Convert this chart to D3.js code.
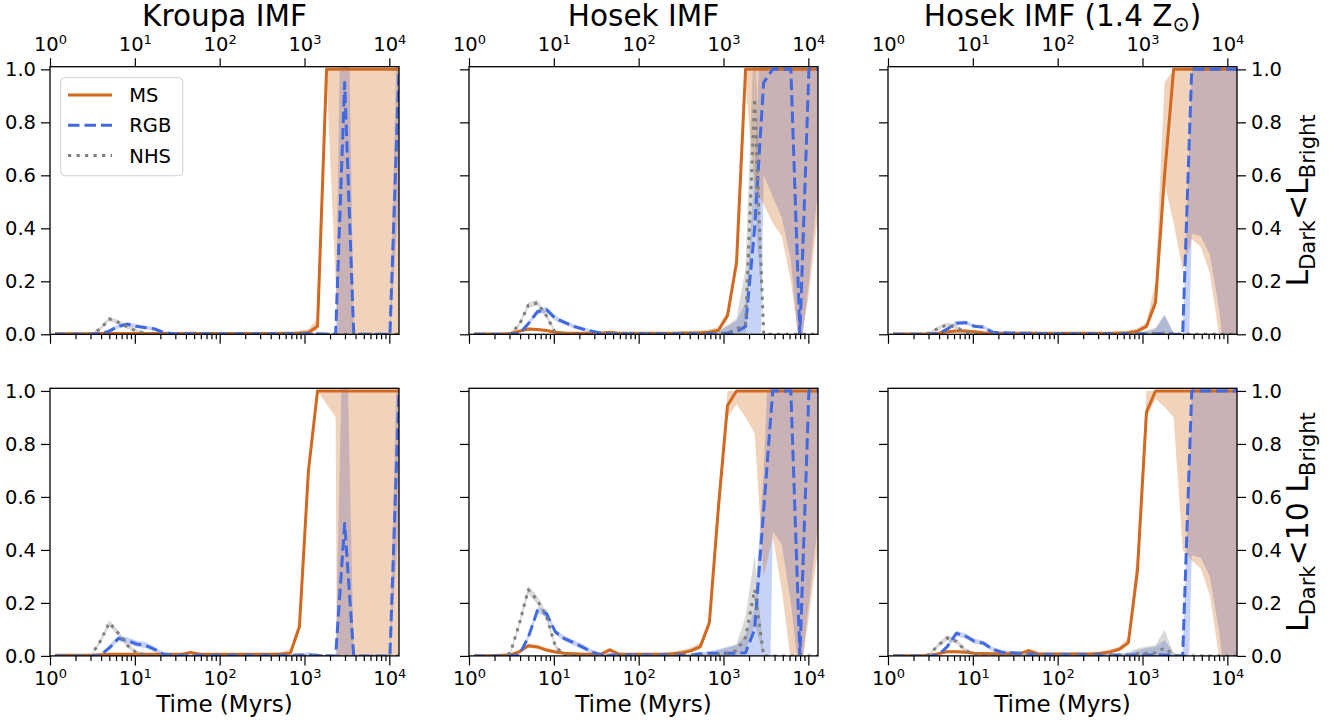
<!DOCTYPE html>
<html>
<head>
  <title>Dark fraction vs time</title>
  <meta charset="utf-8">
  <script type="text/javascript" src="https://d3js.org/d3.v7.min.js"></script>
  <style>
    body { margin: 0; background: #fff; }
    text { font-family: "DejaVu Sans", sans-serif; fill: #000; }
  </style>
</head>
<body>
  <svg width="1336" height="722"></svg>

  <script type="text/javascript">
    "use strict";

    // time grid (Myr)
    var times = [1.145, 1.464, 1.872, 2.393, 3.059, 3.911, 5.0, 6.393, 8.174, 10.45,
      13.36, 17.08, 21.84, 27.92, 35.70, 45.64, 58.36, 74.62, 95.41, 122.0,
      156.0, 199.4, 254.9, 326.0, 416.8, 532.9, 681.3, 871.0, 1114, 1424,
      1820, 2328, 2976, 3805, 4864, 6219, 7951, 10165, 13000];

    var titles = ["Kroupa IMF", "Hosek IMF", "Hosek IMF (1.4 Z"];
    var seriesNames = ["MS", "RGB", "NHS"];
    var yTicks = [0, 0.2, 0.4, 0.6, 0.8, 1.0];
    var xMajor = [1, 10, 100, 1000, 10000];
    var xMinor = [2, 3, 4, 5, 6, 7, 8, 9, 20, 30, 40, 50, 60, 70, 80, 90,
      200, 300, 400, 500, 600, 700, 800, 900, 2000, 3000, 4000, 5000, 6000, 7000, 8000, 9000];

    // ---- Kroupa, L_dark < L_bright
    var kroupa1MS = [0.002,0.002,0.002,0.002,0.002,0.003,0.003,0.003,0.003,0.003,
      0.003,0.003,0.003,0.003,0.003,0.004,0.003,0.003,0.003,0.003,
      0.003,0.003,0.003,0.003,0.003,0.004,0.004,0.005,0.007,0.03,
      1,1,1,1,1,1,1,1,1];
    var kroupa1MSLo = [0,0,0,0,0,0,0,0,0,0, 0,0,0,0,0,0,0,0,0,0,
      0,0,0,0,0,0,0,0,0,0.015, 0.97,0.2,-0.5,-0.5,-0.5,-0.5,-0.5,-0.5,-0.5];
    var kroupa1MSHi = [0.005,0.005,0.005,0.005,0.005,0.005,0.005,0.005,0.005,0.005,
      0.005,0.005,0.005,0.005,0.005,0.007,0.005,0.005,0.005,0.005,
      0.005,0.005,0.005,0.005,0.005,0.006,0.008,0.012,0.02,0.06,
      1,1,1,1,1,1,1,1,1];
    var kroupa1RGB = [0,0,0,0,0,0.002,0.012,0.03,0.038,0.03,
      0.025,0.02,0.007,0.003,0.002,0.002,0.002,0.002,0.002,0.002,
      0.002,0.002,0.002,0.002,0.002,0.002,0.002,0.002,0.002,0.002,
      0.001,0,0.95,0,0,0,0,0,1];
    var kroupa1RGBLo = [0,0,0,0,0,0,0.006,0.022,0.03,0.024,
      0.02,0.014,0.003,0,0,0,0,0,0,0, 0,0,0,0,0,0,0,0,0,0,
      0,0,-0.35,0,0,0,0,0,0.5];
    var kroupa1RGBHi = [0,0,0,0,0,0.004,0.02,0.038,0.046,0.038,
      0.032,0.027,0.012,0.005,0.004,0.003,0.003,0.003,0.003,0.003,
      0.003,0.003,0.003,0.003,0.003,0.003,0.003,0.003,0.003,0.003,
      0.002,0,2.25,0,0,0,0,0,1.5];
    var kroupa1NHS = [0,0,0,0,0.001,0.02,0.058,0.045,0.028,0.012,
      0.004,0.001,0.001,0.001,0.001,0.001,0.001,0.001,0.001,0.001,
      0.001,0.001,0.001,0.001,0.001,0.001,0.001,0.001,0.001,0.001,
      0,0,0,0,0,0,0,0,0];
    var kroupa1NHSLo = [0,0,0,0,0,0.014,0.05,0.038,0.02,0.006,
      0,0,0,0,0,0,0,0,0,0, 0,0,0,0,0,0,0,0,0,0, 0,0,0,0,0,0,0,0,0];
    var kroupa1NHSHi = [0,0,0,0,0.004,0.028,0.066,0.054,0.036,0.02,
      0.008,0.003,0.002,0.002,0.002,0.002,0.002,0.002,0.002,0.002,
      0.002,0.002,0.002,0.002,0.002,0.002,0.002,0.002,0.002,0.002,
      0,0,0,0,0,0,0,0,0];

    // ---- Hosek, L_dark < L_bright
    var hosek1MS = [0.001,0.001,0.001,0.001,0.003,0.012,0.02,0.018,0.014,0.008,
      0.005,0.004,0.004,0.004,0.004,0.008,0.004,0.004,0.004,0.004,
      0.004,0.004,0.004,0.005,0.005,0.006,0.008,0.015,0.07,0.27,
      1,1,1,1,1,1,1,1,1];
    var hosek1MSLo = [0,0,0,0,0,0.008,0.015,0.013,0.01,0.005,
      0.002,0.002,0.002,0.002,0.002,0.004,0.002,0.002,0.002,0.002,
      0.002,0.002,0.002,0.002,0.002,0.003,0.004,0.008,0.055,0.25,
      0.95,0.55,0.49,0.42,0.37,0.2,-0.05,0.15,0.45];
    var hosek1MSHi = [0.003,0.003,0.003,0.003,0.006,0.016,0.025,0.023,0.019,0.012,
      0.008,0.008,0.008,0.008,0.008,0.012,0.008,0.008,0.008,0.008,
      0.008,0.008,0.008,0.01,0.012,0.014,0.018,0.028,0.09,0.3,
      1,1,1,1,1,1,1,1,1];
    var hosek1RGB = [0,0,0,0,0,0.003,0.04,0.085,0.093,0.06,
      0.045,0.03,0.02,0.012,0.005,0.002,0.002,0.002,0.002,0.002,
      0.002,0.002,0.002,0.002,0.002,0.002,0.002,0.003,0.005,0.01,
      0.03,0.4,0.95,1,1,1,0,1,1];
    var hosek1RGBLo = [0,0,0,0,0,0,0.032,0.075,0.083,0.05,
      0.037,0.022,0.013,0.006,0.001,0,0,0,0,0, 0,0,0,0,0,0,0,0,0,0,
      -0.1,-1.5,0.6,0.52,0.44,0.28,-0.1,0.2,0.55];
    var hosek1RGBHi = [0,0,0,0,0,0.008,0.048,0.095,0.103,0.07,
      0.053,0.038,0.027,0.018,0.01,0.004,0.004,0.004,0.004,0.004,
      0.004,0.004,0.004,0.004,0.004,0.004,0.004,0.01,0.03,0.05,
      0.12,0.6,1.5,1.5,1.5,1.5,1.2,1.5,1.5];
    var hosek1NHS = [0,0,0,0,0.003,0.035,0.11,0.118,0.07,0.005,
      0.001,0.001,0.001,0.001,0.001,0.001,0.001,0.001,0.001,0.001,
      0.001,0.001,0.001,0.001,0.001,0.001,0.001,0.002,0.005,0.02,
      0.04,0.89,0,0,0,0,0,0,0];
    var hosek1NHSLo = [0,0,0,0,0,0.028,0.1,0.108,0.06,0,
      0,0,0,0,0,0,0,0,0,0, 0,0,0,0,0,0,0,0,0,0, 0,0.5,0,0,0,0,0,0,0];
    var hosek1NHSHi = [0,0,0,0,0.006,0.045,0.12,0.13,0.08,0.012,
      0.003,0.003,0.003,0.003,0.003,0.003,0.003,0.003,0.003,0.003,
      0.003,0.003,0.003,0.003,0.003,0.003,0.005,0.015,0.035,0.06,
      0.25,1.2,0,0,0,0,0,0,0];

    // ---- Hosek 1.4 Zsun, L_dark < L_bright
    var hosekZ1MS = [0.001,0.001,0.001,0.001,0.002,0.004,0.01,0.012,0.012,0.01,
      0.006,0.004,0.004,0.004,0.004,0.005,0.004,0.004,0.004,0.004,
      0.004,0.004,0.004,0.004,0.004,0.005,0.006,0.012,0.03,0.12,
      0.6,1,1,1,1,1,1,1,1];
    var hosekZ1MSLo = [0,0,0,0,0,0.002,0.006,0.008,0.008,0.006,
      0.003,0.002,0.002,0.002,0.002,0.002,0.002,0.002,0.002,0.002,
      0.002,0.002,0.002,0.002,0.002,0.002,0.003,0.008,0.02,0.1,
      0.57,0.42,0.24,0.36,0.33,0.23,0,-0.3,-0.3];
    var hosekZ1MSHi = [0.003,0.003,0.003,0.003,0.004,0.007,0.015,0.017,0.017,0.015,
      0.01,0.008,0.008,0.008,0.008,0.009,0.008,0.008,0.008,0.008,
      0.008,0.008,0.008,0.008,0.008,0.01,0.014,0.022,0.045,0.2,
      0.95,1,1,1,1,1,1,1,1];
    var hosekZ1RGB = [0,0,0,0,0,0.002,0.02,0.042,0.044,0.03,
      0.027,0.008,0.006,0.005,0.004,0.003,0.002,0.002,0.002,0.002,
      0.002,0.002,0.002,0.002,0.002,0.002,0.002,0.002,0.002,0.002,
      0.003,0.001,0,1,1,1,1,1,1];
    var hosekZ1RGBLo = [0,0,0,0,0,0,0.014,0.035,0.037,0.024,
      0.02,0.004,0.003,0,0,0,0,0,0,0, 0,0,0,0,0,0,0,0,0,0,
      0,0,-1,0.38,0.37,0.3,0.1,-0.2,-0.3];
    var hosekZ1RGBHi = [0,0,0,0,0,0.005,0.027,0.05,0.052,0.037,
      0.034,0.013,0.01,0.008,0.007,0.005,0.005,0.005,0.005,0.005,
      0.005,0.005,0.005,0.005,0.005,0.005,0.005,0.005,0.008,0.02,
      0.07,0.005,0,1,1.5,1.5,1.5,1.5,1.5];
    var hosekZ1NHS = [0,0,0,0,0.005,0.022,0.036,0.025,0.008,0.002,
      0.001,0.001,0.001,0.001,0.001,0.001,0.001,0.001,0.001,0.001,
      0.001,0.001,0.001,0.001,0.001,0.001,0.001,0.001,0.001,0.003,
      0.005,0.002,0,0,0,0,0,0,0];
    var hosekZ1NHSLo = [0,0,0,0,0,0.016,0.03,0.018,0.003,0,
      0,0,0,0,0,0,0,0,0,0, 0,0,0,0,0,0,0,0,0,0, 0,0,0,0,0,0,0,0,0];
    var hosekZ1NHSHi = [0,0,0,0,0.009,0.03,0.045,0.035,0.016,0.006,
      0.003,0.003,0.003,0.003,0.003,0.003,0.003,0.003,0.003,0.003,
      0.003,0.003,0.003,0.003,0.003,0.003,0.003,0.008,0.015,0.025,
      0.075,0.005,0,0,0,0,0,0,0];

    // ---- Kroupa, L_dark < 10 L_bright
    var kroupa10MS = [0.002,0.002,0.002,0.002,0.002,0.004,0.006,0.006,0.006,0.006,
      0.006,0.006,0.006,0.006,0.006,0.013,0.006,0.006,0.006,0.006,
      0.006,0.006,0.006,0.006,0.006,0.007,0.01,0.11,0.7,1,
      1,1,1,1,1,1,1,1,1];
    var kroupa10MSLo = [0,0,0,0,0,0,0.002,0.002,0.002,0.002,
      0.002,0.002,0.002,0.002,0.002,0.008,0.002,0.002,0.002,0.002,
      0.002,0.002,0.002,0.002,0.002,0.004,0.006,0.1,0.69,1,
      0.95,0.9,-6,-1,-1,-1,-1,-1,-1];
    var kroupa10MSHi = [0.004,0.004,0.004,0.004,0.004,0.009,0.009,0.009,0.009,0.009,
      0.009,0.009,0.009,0.009,0.009,0.017,0.01,0.01,0.01,0.01,
      0.01,0.01,0.01,0.01,0.012,0.015,0.025,0.13,0.72,1,
      1,1,1,1,1,1,1,1,1];
    var kroupa10RGB = [0,0,0,0,0,0.002,0.03,0.066,0.058,0.045,
      0.04,0.025,0.006,0.003,0.002,0.002,0.002,0.002,0.002,0.002,
      0.002,0.002,0.002,0.002,0.002,0.002,0.002,0.003,0.004,0.002,
      0.001,0,0.5,0,0,0,0,0,1];
    var kroupa10RGBLo = [0,0,0,0,0,0,0.02,0.055,0.048,0.035,
      0.03,0.015,0.002,0,0,0,0,0,0,0, 0,0,0,0,0,0,0,0,0,0,
      0,0,-0.6,0,0,0,0,0,0.5];
    var kroupa10RGBHi = [0,0,0,0,0,0.006,0.04,0.077,0.07,0.057,
      0.052,0.035,0.014,0.006,0.004,0.004,0.004,0.004,0.004,0.004,
      0.004,0.004,0.004,0.004,0.004,0.004,0.004,0.006,0.015,0.004,
      0.002,0,1.6,0,0,0,0,0,1.5];
    var kroupa10NHS = [0,0,0,0,0.002,0.055,0.125,0.085,0.04,0.012,
      0.004,0.001,0.001,0.001,0.001,0.001,0.001,0.001,0.001,0.001,
      0.001,0.001,0.001,0.001,0.001,0.001,0.001,0.001,0.001,0.001,
      0.001,0,0,0,0,0,0,0,0];
    var kroupa10NHSLo = [0,0,0,0,0,0.045,0.113,0.075,0.03,0.005,
      0,0,0,0,0,0,0,0,0,0, 0,0,0,0,0,0,0,0,0,0, 0,0,0,0,0,0,0,0,0];
    var kroupa10NHSHi = [0,0,0,0,0.006,0.065,0.135,0.096,0.05,0.02,
      0.008,0.003,0.003,0.003,0.003,0.003,0.003,0.003,0.003,0.003,
      0.003,0.003,0.003,0.003,0.003,0.003,0.003,0.003,0.003,0.003,
      0.003,0,0,0,0,0,0,0,0];

    // ---- Hosek, L_dark < 10 L_bright
    var hosek10MS = [0.001,0.001,0.001,0.002,0.003,0.016,0.038,0.034,0.022,0.015,
      0.01,0.008,0.006,0.006,0.006,0.023,0.007,0.006,0.006,0.006,
      0.006,0.006,0.008,0.012,0.02,0.035,0.125,0.56,0.945,1,
      1,1,1,1,1,1,1,1,1];
    var hosek10MSLo = [0,0,0,0,0,0.01,0.03,0.027,0.016,0.01,
      0.006,0.003,0.003,0.003,0.003,0.015,0.003,0.003,0.003,0.003,
      0.003,0.003,0.004,0.007,0.013,0.025,0.11,0.54,0.9,0.95,
      0.9,0.84,0.3,0.45,0.25,-0.02,-0.1,0.15,0.4];
    var hosek10MSHi = [0.003,0.003,0.003,0.003,0.005,0.022,0.046,0.042,0.03,0.022,
      0.015,0.012,0.012,0.012,0.012,0.03,0.012,0.012,0.012,0.012,
      0.012,0.012,0.016,0.022,0.032,0.05,0.145,0.62,1,1,
      1,1,1,1,1,1,1,1,1];
    var hosek10RGB = [0,0,0,0,0,0.005,0.07,0.17,0.16,0.09,
      0.065,0.05,0.033,0.015,0.005,0.003,0.003,0.003,0.003,0.003,
      0.003,0.003,0.003,0.003,0.003,0.008,0.01,0.01,0.01,0.01,
      0.012,0.1,0.55,1,1,1,0,1,1];
    var hosek10RGBLo = [0,0,0,0,0,0,0.06,0.16,0.148,0.08,
      0.055,0.04,0.024,0.008,0,0,0,0,0,0, 0,0,0,0,0,0,0,0,0,0,
      -0.05,-0.3,-1.5,0.47,0.42,0.2,-0.1,0.2,0.5];
    var hosek10RGBHi = [0,0,0,0,0,0.01,0.08,0.185,0.175,0.1,
      0.075,0.06,0.043,0.024,0.01,0.006,0.006,0.006,0.006,0.006,
      0.006,0.006,0.006,0.006,0.006,0.014,0.018,0.025,0.035,0.04,
      0.08,0.18,0.7,1.5,1.5,1.5,1.0,1.5,1.5];
    var hosek10NHS = [0,0,0,0,0.01,0.12,0.25,0.21,0.15,0.035,
      0.003,0.002,0.002,0.002,0.002,0.002,0.002,0.002,0.002,0.002,
      0.002,0.002,0.002,0.002,0.002,0.002,0.002,0.005,0.01,0.02,
      0.07,0.25,0,0,0,0,0,0,0];
    var hosek10NHSLo = [0,0,0,0,0,0.11,0.235,0.195,0.135,0.025,
      0,0,0,0,0,0,0,0,0,0, 0,0,0,0,0,0,0,0,0,0, 0.02,0.12,0,0,0,0,0,0,0];
    var hosek10NHSHi = [0,0,0,0,0.015,0.13,0.265,0.225,0.165,0.045,
      0.01,0.005,0.005,0.005,0.005,0.005,0.005,0.005,0.005,0.005,
      0.005,0.005,0.005,0.005,0.005,0.005,0.01,0.02,0.03,0.045,
      0.15,0.38,0,0,0,0,0,0,0];

    // ---- Hosek 1.4 Zsun, L_dark < 10 L_bright
    var hosekZ10MS = [0.001,0.001,0.001,0.001,0.002,0.008,0.016,0.016,0.014,0.01,
      0.009,0.008,0.008,0.008,0.008,0.02,0.008,0.007,0.007,0.007,
      0.007,0.007,0.007,0.01,0.015,0.025,0.05,0.32,0.92,1,
      1,1,1,1,1,1,1,1,1];
    var hosekZ10MSLo = [0,0,0,0,0,0.004,0.011,0.011,0.009,0.006,
      0.005,0.005,0.005,0.005,0.005,0.014,0.004,0.004,0.004,0.004,
      0.004,0.004,0.004,0.006,0.01,0.018,0.04,0.3,0.9,0.97,
      0.94,0.9,0.4,0.36,0.33,0.23,0,-0.3,-0.3];
    var hosekZ10MSHi = [0.003,0.003,0.003,0.003,0.004,0.012,0.022,0.022,0.02,0.015,
      0.013,0.013,0.013,0.013,0.013,0.026,0.013,0.013,0.013,0.013,
      0.013,0.013,0.013,0.018,0.025,0.035,0.07,0.4,1,1,
      1,1,1,1,1,1,1,1,1];
    var hosekZ10RGB = [0,0,0,0,0,0.003,0.035,0.085,0.075,0.055,
      0.048,0.025,0.014,0.012,0.01,0.008,0.005,0.005,0.005,0.005,
      0.005,0.005,0.005,0.003,0.003,0.003,0.003,0.003,0.003,0.003,
      0.003,0.002,0,1,1,1,1,1,1];
    var hosekZ10RGBLo = [0,0,0,0,0,0,0.027,0.075,0.065,0.046,
      0.04,0.017,0.008,0.006,0.004,0,0,0,0,0, 0,0,0,0,0,0,0,0,0,0,
      0,0,-1,0.38,0.37,0.3,0.1,-0.2,-0.3];
    var hosekZ10RGBHi = [0,0,0,0,0,0.008,0.045,0.095,0.085,0.065,
      0.057,0.034,0.022,0.019,0.017,0.014,0.009,0.009,0.009,0.009,
      0.009,0.009,0.009,0.009,0.009,0.009,0.009,0.02,0.03,0.035,
      0.06,0.01,0,1,1.5,1.5,1.5,1.5,1.5];
    var hosekZ10NHS = [0,0,0,0,0.005,0.04,0.068,0.055,0.02,0.006,
      0.002,0.002,0.002,0.002,0.002,0.002,0.002,0.002,0.002,0.002,
      0.002,0.002,0.002,0.002,0.002,0.002,0.002,0.008,0.01,0.012,
      0.03,0.003,0,0,0,0,0,0,0];
    var hosekZ10NHSLo = [0,0,0,0,0,0.032,0.058,0.045,0.012,0,
      0,0,0,0,0,0,0,0,0,0, 0,0,0,0,0,0,0,0,0,0, 0,0,0,0,0,0,0,0,0];
    var hosekZ10NHSHi = [0,0,0,0,0.01,0.05,0.078,0.066,0.03,0.012,
      0.005,0.005,0.005,0.005,0.005,0.005,0.005,0.005,0.005,0.005,
      0.005,0.005,0.005,0.005,0.005,0.005,0.015,0.028,0.035,0.04,
      0.1,0.008,0,0,0,0,0,0,0];

    var panels = [
      { col: 0, row: 0, ms: [kroupa1MS, kroupa1MSLo, kroupa1MSHi], rgb: [kroupa1RGB, kroupa1RGBLo, kroupa1RGBHi], nhs: [kroupa1NHS, kroupa1NHSLo, kroupa1NHSHi] },
      { col: 1, row: 0, ms: [hosek1MS, hosek1MSLo, hosek1MSHi], rgb: [hosek1RGB, hosek1RGBLo, hosek1RGBHi], nhs: [hosek1NHS, hosek1NHSLo, hosek1NHSHi] },
      { col: 2, row: 0, ms: [hosekZ1MS, hosekZ1MSLo, hosekZ1MSHi], rgb: [hosekZ1RGB, hosekZ1RGBLo, hosekZ1RGBHi], nhs: [hosekZ1NHS, hosekZ1NHSLo, hosekZ1NHSHi] },
      { col: 0, row: 1, ms: [kroupa10MS, kroupa10MSLo, kroupa10MSHi], rgb: [kroupa10RGB, kroupa10RGBLo, kroupa10RGBHi], nhs: [kroupa10NHS, kroupa10NHSLo, kroupa10NHSHi] },
      { col: 1, row: 1, ms: [hosek10MS, hosek10MSLo, hosek10MSHi], rgb: [hosek10RGB, hosek10RGBLo, hosek10RGBHi], nhs: [hosek10NHS, hosek10NHSLo, hosek10NHSHi] },
      { col: 2, row: 1, ms: [hosekZ10MS, hosekZ10MSLo, hosekZ10MSHi], rgb: [hosekZ10RGB, hosekZ10RGBLo, hosekZ10RGBHi], nhs: [hosekZ10NHS, hosekZ10NHSLo, hosekZ10NHSHi] }
    ];

    var msColor = "#d2691e", rgbColor = "#4169e1", nhsColor = "#808080";
    var styles = {
      ms: { color: msColor, dash: null },
      rgb: { color: rgbColor, dash: "11.5,5" },
      nhs: { color: nhsColor, dash: "3.2,5.3" }
    };

    var svg = d3.select("svg");
    var pw = 349, ph = 267.6;
    var colLeft = [50, 469, 888];
    var rowTop = [66.7, 388.3];
    var tickFont = 19.5;

    function powLabels(g, yText) {
      g.selectAll(".tick").each(function(d) {
        var t = d3.select(this).append("text")
          .attr("y", yText)
          .attr("text-anchor", "middle")
          .attr("font-size", tickFont);
        t.append("tspan").text("10");
        t.append("tspan").attr("dy", -7).attr("font-size", 13)
          .text(Math.round(Math.log10(d)));
      });
    }

    function styleAxis(g) {
      g.select(".domain").remove();
      g.selectAll(".tick line").attr("stroke", "#000").attr("stroke-width", 1.2);
      g.attr("font-family", "DejaVu Sans").attr("font-size", tickFont);
      g.selectAll(".tick text").attr("fill", "#000");
    }

    panels.forEach(function(p, i) {
      var left = colLeft[p.col], top = rowTop[p.row];
      var x = d3.scaleLog().domain([1, 13000]).range([left, left + pw]);
      var y = d3.scaleLinear().domain([0, 1.01]).range([top + ph, top]);

      svg.append("clipPath").attr("id", "clip" + i)
        .append("rect")
        .attr("x", left).attr("y", top).attr("width", pw).attr("height", ph);

      var plot = svg.append("g").attr("clip-path", "url(#clip" + i + ")");

      function band(lo, hi) {
        return d3.area()
          .x(function(d, j) { return x(times[j]); })
          .y0(function(d, j) { return y(lo[j]); })
          .y1(function(d, j) { return y(hi[j]); })(times);
      }
      function line(v) {
        return d3.line()
          .x(function(d, j) { return x(times[j]); })
          .y(function(d, j) { return y(v[j]); })(times);
      }

      // shaded ranges
      ["rgb", "ms", "nhs"].forEach(function(k) {
        plot.append("path")
          .attr("d", band(p[k][1], p[k][2]))
          .attr("fill", styles[k].color)
          .attr("fill-opacity", 0.3);
      });
      // median lines
      ["ms", "rgb", "nhs"].forEach(function(k) {
        plot.append("path")
          .attr("d", line(p[k][0]))
          .attr("fill", "none")
          .attr("stroke", styles[k].color)
          .attr("stroke-width", 3)
          .attr("stroke-linejoin", "round")
          .attr("stroke-dasharray", styles[k].dash);
      });

      // frame
      svg.append("rect")
        .attr("x", left).attr("y", top).attr("width", pw).attr("height", ph)
        .attr("fill", "none").attr("stroke", "#000").attr("stroke-width", 1.3);

      // y axis (left)
      svg.append("g")
        .attr("transform", "translate(" + left + ",0)")
        .call(d3.axisLeft(y).tickValues(yTicks).tickSize(9).tickPadding(5)
          .tickFormat(p.col === 0 ? d3.format(".1f") : function() { return ""; }))
        .call(styleAxis);

      // y axis (right column)
      if (p.col === 2) {
        svg.append("g")
          .attr("transform", "translate(" + (left + pw) + ",0)")
          .call(d3.axisRight(y).tickValues(yTicks).tickSize(9).tickPadding(5)
            .tickFormat(d3.format(".1f")))
          .call(styleAxis);
      }

      // bottom x axis: major + minor
      var gb = svg.append("g")
        .attr("transform", "translate(0," + (top + ph) + ")")
        .call(d3.axisBottom(x).tickValues(xMajor).tickSize(9.5)
          .tickFormat(function() { return ""; }))
        .call(styleAxis);
      svg.append("g")
        .attr("transform", "translate(0," + (top + ph) + ")")
        .call(d3.axisBottom(x).tickValues(xMinor).tickSize(5)
          .tickFormat(function() { return ""; }))
        .call(styleAxis);
      if (p.row === 1) {
        gb.call(powLabels, 29);
        svg.append("text")
          .attr("x", left + pw / 2).attr("y", 712)
          .attr("text-anchor", "middle").attr("font-size", 23)
          .text("Time (Myrs)");
      }

      // top x axis on the upper row
      if (p.row === 0) {
        svg.append("g")
          .attr("transform", "translate(0," + top + ")")
          .call(d3.axisTop(x).tickValues(xMajor).tickSize(8.5)
            .tickFormat(function() { return ""; }))
          .call(styleAxis)
          .call(powLabels, -16);

        var tt = svg.append("text")
          .attr("x", left + pw / 2).attr("y", 25.5)
          .attr("text-anchor", "middle").attr("font-size", 29.5)
          .text(titles[p.col]);
        if (p.col === 2) {
          tt.append("tspan").attr("dy", 5).attr("font-size", 20.5).text("\u2299");
          tt.append("tspan").attr("dy", -5).text(")");
        }
      }
    });

    // right-hand row labels
    var rowLabels = [
      [["L", 0], ["Dark", 1], ["<L", 0], ["Bright", 1]],
      [["L", 0], ["Dark", 1], ["<10 L", 0], ["Bright", 1]]
    ];
    rowLabels.forEach(function(parts, r) {
      var cy = rowTop[r] + ph / 2;
      var t = svg.append("text")
        .attr("transform", "translate(1308," + cy + ") rotate(-90)")
        .attr("text-anchor", "middle")
        .attr("font-size", 30);
      var shift = 0;
      parts.forEach(function(pt) {
        var want = pt[1] ? 6.5 : 0;
        t.append("tspan")
          .attr("dy", want - shift)
          .attr("font-size", pt[1] ? 21 : 30)
          .text(pt[0]);
        shift = want;
      });
    });

    // legend
    var lg = svg.append("g");
    lg.append("rect")
      .attr("x", 60.7).attr("y", 77.7).attr("width", 122).attr("height", 98)
      .attr("rx", 4).attr("fill", "#fff").attr("fill-opacity", 0.8)
      .attr("stroke", "#d0d0d0").attr("stroke-width", 1);
    ["ms", "rgb", "nhs"].forEach(function(k, i) {
      var yy = 95 + i * 30.3;
      lg.append("line")
        .attr("x1", 68).attr("x2", 112).attr("y1", yy).attr("y2", yy)
        .attr("stroke", styles[k].color).attr("stroke-width", 3)
        .attr("stroke-dasharray", styles[k].dash);
      lg.append("text")
        .attr("x", 129.3).attr("y", yy + 7)
        .attr("font-size", tickFont)
        .text(seriesNames[i]);
    });
  </script>
</body>
</html>
